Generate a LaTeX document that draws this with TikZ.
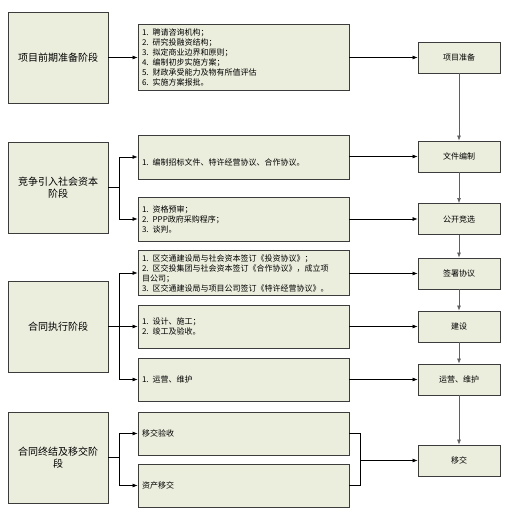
\documentclass[tikz,border=0pt]{standalone}
\usepackage{fontspec}
\setmainfont{Noto Sans CJK SC}
\usetikzlibrary{positioning,arrows.meta}
\definecolor{boxfill}{RGB}{235,238,221}
\definecolor{boxline}{RGB}{60,60,60}
\definecolor{flowgray}{RGB}{95,95,95}
\tikzstyle{mybox}=[draw=boxline, fill=boxfill, line width=0.9pt, rectangle]
\tikzstyle{stagebox}=[mybox, minimum width=100pt, minimum height=91pt, align=center, font=\fontsize{10}{12}\selectfont]
\tikzstyle{taskbox}=[mybox, text width=203pt, inner sep=4pt, align=left, font=\fontsize{8}{10}\selectfont]
\tikzstyle{stepbox}=[mybox, minimum width=82pt, minimum height=31pt, font=\fontsize{8}{10}\selectfont]
\tikzstyle{connect}=[-, line width=0.6pt, black]
\tikzstyle{connect arrow}=[-{Latex[length=5,width=4]}, line width=0.6pt, black]
\tikzstyle{flow arrow}=[connect arrow, draw=flowgray]

\begin{document}
\begin{tikzpicture}[x=1pt, y=-1pt]
\useasboundingbox (0,0) rectangle (507,513);

% stages
\node[stagebox] (stage1) at (58,57.5) {项目前期准备阶段};
\node[stagebox] (stage2) at (58,187.5) {竞争引入社会资本\\阶段};
\node[stagebox] (stage3) at (58,326.5) {合同执行阶段};
\node[stagebox] (stage4) at (58,457.5) {合同终结及移交阶\\段};

% tasks
\node[taskbox, minimum height=63pt] (task1) at (243.5,57.5) {1. 聘请咨询机构；\\2. 研究投融资结构；\\3. 拟定商业边界和原则；\\4. 编制初步实施方案；\\5. 财政承受能力及物有所值评估\\6. 实施方案报批。};
\node[taskbox, minimum height=44pt] (task2) at (243.5,157) {\strut\\1. 编制招标文件、特许经营协议、合作协议。};
\node[taskbox, minimum height=44pt] (task3) at (243.5,219) {1. 资格预审；\\2. PPP政府采购程序；\\3. 谈判。};
\node[taskbox, minimum height=44pt] (task4) at (243.5,273) {1. 区交通建设局与社会资本签订《投资协议》；\\2. 区交投集团与社会资本签订《合作协议》，成立项\\目公司；\\3. 区交通建设局与项目公司签订《特许经营协议》。};
\node[taskbox, minimum height=43pt] (task5) at (243.5,326.5) {1. 设计、施工；\\2. 竣工及验收。};
\node[taskbox, minimum height=43pt] (task6) at (243.5,379.5) {1. 运营、维护};
\node[taskbox, minimum height=43pt] (task7) at (243.5,433.5) {移交验收};
\node[taskbox, minimum height=43pt] (task8) at (243.5,485.5) {资产移交};

% steps
\node[stepbox] (step1) at (459,57.5) {项目准备};
\node[stepbox] (step2) at (459,156.5) {文件编制};
\node[stepbox] (step3) at (459,219) {公开竞选};
\node[stepbox] (step4) at (459,273.5) {签署协议};
\node[stepbox] (step5) at (459,326.5) {建设};
\node[stepbox] (step6) at (459,379.5) {运营、维护};
\node[stepbox] (step7) at (459,460.5) {移交};

\coordinate (fork2) at (119,187.5);
\coordinate (fork3) at (119,326.5);
\coordinate (fork4) at (119,457.5);
\coordinate (join) at (360,460.5);

\begin{scope}[connect arrow]
    \draw (stage1) -- (task1);
    \draw[connect] (stage2.east) -- (fork2);
    \draw (fork2) |- (task2.west);
    \draw (fork2) |- (task3.west);
    \draw (stage3.east) -- (task5.west);
    \draw (fork3) |- (task4.west);
    \draw (fork3) |- (task6.west);
    \draw[connect] (stage4.east) -- (fork4);
    \draw (fork4) |- (task7.west);
    \draw (fork4) |- (task8.west);

    \foreach \t in {1,...,6}
        \draw (task\t.east |- step\t) -- (step\t.west);
    \draw[connect] (task7.east) -| (join);
    \draw[connect] (task8.east) -| (join);
    \draw (join) -- (step7.west);
\end{scope}

\foreach \a/\b in {1/2,2/3,3/4,4/5,5/6,6/7}
    \draw[flow arrow] (step\a) -- (step\b);

\end{tikzpicture}
\end{document}
